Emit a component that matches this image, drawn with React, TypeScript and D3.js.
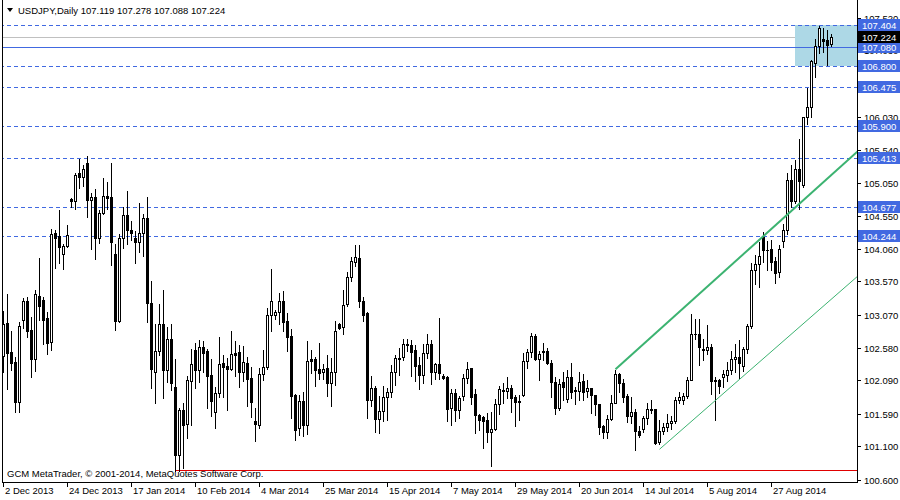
import React from "react";
import * as d3 from "d3";

// ---------- data (USDJPY daily, 2 Dec 2013 .. 19 Sep 2014) ----------
const OPEN = [
  102.448, 102.943, 102.508, 102.358, 101.763, 102.998, 103.273, 102.838, 102.408, 103.358,
  103.288, 103.018, 102.663, 104.293, 104.243, 103.983, 104.103, 104.803, 104.778, 105.188,
  105.138, 105.338, 104.793, 104.828, 104.213, 104.588, 104.843, 104.828, 103.973, 102.978,
  104.213, 104.558, 104.338, 104.218, 104.163, 104.288, 104.513, 103.253, 102.213, 102.533,
  102.928, 102.243, 102.713, 101.983, 100.968, 101.638, 101.433, 102.083, 102.538, 102.243,
  102.583, 102.523, 102.173, 101.618, 101.903, 102.353, 102.298, 102.258, 102.493, 102.508,
  102.213, 102.355, 102.120, 101.475, 101.425, 102.190, 102.285, 103.060, 103.060, 103.105,
  103.275, 102.975, 102.750, 101.875, 101.380, 101.785, 101.425, 102.405, 102.405, 102.255,
  102.220, 102.270, 102.050, 102.220, 102.925, 102.880, 103.235, 103.635, 103.865, 103.920,
  103.275, 103.102, 101.802, 101.967, 101.517, 101.627, 101.842, 101.907, 102.217, 102.407,
  102.442, 102.617, 102.617, 102.537, 102.317, 102.172, 102.492, 102.637, 102.217, 102.327,
  102.147, 102.132, 101.682, 101.892, 101.652, 101.852, 102.117, 102.267, 101.877, 101.567,
  101.542, 101.493, 101.323, 101.358, 101.728, 101.943, 101.928, 101.968, 101.843, 101.778,
  101.868, 102.378, 102.508, 102.758, 102.408, 102.508, 102.528, 102.343, 102.058, 101.678,
  102.063, 101.808, 102.133, 101.943, 101.928, 102.083, 101.923, 101.968, 101.863, 101.728,
  101.403, 101.315, 101.515, 101.755, 102.180, 102.055, 101.855, 101.555, 101.620, 101.330,
  101.360, 101.530, 101.640, 101.655, 101.170, 101.325, 101.385, 101.455, 101.475, 101.800,
  101.790, 101.855, 102.100, 102.780, 102.790, 102.565, 102.550, 102.590, 102.090, 102.090,
  102.140, 102.174, 102.244, 102.409, 102.444, 102.309, 102.559, 102.909, 103.744, 103.834,
  104.234, 104.044, 104.059, 103.874, 103.709, 104.169, 104.344, 105.084, 104.774, 105.259,
  105.009, 106.024, 106.184, 106.844, 107.099, 107.199, 107.184, 107.119,
];
const HIGH = [
  103.123, 103.378, 102.823, 102.438, 102.958, 103.323, 103.338, 103.038, 103.438, 103.923,
  103.338, 103.108, 104.353, 104.338, 104.638, 104.128, 104.413, 104.823, 105.188, 105.398,
  105.313, 105.448, 104.888, 104.953, 104.638, 105.113, 105.053, 105.338, 104.128, 104.278,
  104.688, 104.923, 104.473, 104.323, 104.743, 104.573, 104.833, 103.573, 102.928, 103.238,
  103.438, 102.888, 102.928, 102.403, 101.668, 101.753, 102.153, 102.563, 102.648, 102.688,
  102.673, 102.553, 102.403, 101.983, 102.733, 102.463, 102.418, 102.823, 102.673, 102.613,
  102.598, 102.435, 102.290, 101.675, 102.280, 102.540, 103.170, 103.755, 103.140, 103.395,
  103.425, 103.095, 102.860, 101.890, 101.865, 101.910, 102.675, 102.540, 102.440, 102.645,
  102.340, 102.465, 102.430, 102.975, 102.950, 103.440, 103.710, 103.930, 104.115, 104.115,
  103.340, 103.110, 102.152, 102.002, 101.852, 102.002, 101.977, 102.317, 102.467, 102.567,
  102.707, 102.707, 102.687, 102.617, 102.442, 102.627, 102.777, 102.692, 102.352, 103.027,
  102.182, 102.152, 101.952, 101.952, 101.852, 102.182, 102.367, 102.272, 101.962, 101.592,
  101.552, 101.593, 101.608, 101.803, 102.003, 102.043, 102.143, 102.018, 101.868, 101.868,
  102.493, 102.553, 102.803, 102.783, 102.528, 102.643, 102.568, 102.393, 102.143, 102.103,
  102.218, 102.243, 102.343, 101.993, 102.208, 102.183, 102.093, 101.978, 101.868, 101.733,
  101.418, 101.565, 101.865, 102.250, 102.205, 102.105, 101.890, 101.840, 101.655, 101.400,
  101.555, 101.755, 101.790, 101.665, 101.500, 101.455, 101.590, 101.550, 101.840, 101.915,
  101.900, 102.140, 103.080, 103.005, 103.005, 102.715, 102.915, 102.630, 102.140, 102.115,
  102.240, 102.359, 102.534, 102.634, 102.694, 102.584, 102.934, 103.844, 103.959, 104.159,
  104.309, 104.169, 104.184, 103.934, 104.109, 104.434, 105.194, 105.309, 105.384, 105.699,
  106.034, 106.469, 106.884, 107.199, 107.399, 107.369, 107.334, 107.278,
];
const LOW = [
  102.213, 101.958, 102.238, 101.613, 101.613, 102.873, 102.738, 102.138, 102.223, 102.988,
  102.638, 102.488, 102.548, 103.773, 103.853, 103.758, 104.083, 104.688, 104.648, 104.963,
  105.003, 104.538, 104.053, 103.898, 104.138, 104.578, 104.648, 103.823, 102.838, 102.958,
  104.063, 104.128, 104.188, 103.848, 104.013, 103.953, 102.963, 101.973, 101.748, 102.473,
  101.823, 102.063, 101.948, 100.738, 100.738, 100.778, 101.228, 101.418, 101.973, 102.063,
  102.213, 101.673, 101.553, 101.378, 101.838, 101.838, 101.643, 102.238, 102.153, 101.988,
  102.078, 101.700, 101.540, 101.180, 101.375, 102.095, 102.260, 102.830, 103.000, 102.925,
  102.830, 102.530, 101.525, 101.195, 101.265, 101.250, 101.285, 102.200, 102.005, 102.105,
  102.110, 101.855, 101.705, 102.025, 102.865, 102.785, 103.205, 103.580, 103.800, 103.190,
  102.980, 101.527, 101.702, 101.317, 101.307, 101.482, 101.492, 101.842, 102.017, 102.167,
  102.392, 102.532, 102.157, 102.077, 101.952, 102.042, 102.417, 102.032, 102.112, 102.102,
  102.102, 101.482, 101.427, 101.482, 101.532, 101.792, 102.042, 101.732, 101.307, 101.342,
  101.077, 101.163, 100.808, 101.343, 101.578, 101.743, 101.818, 101.618, 101.403, 101.493,
  101.853, 102.268, 102.443, 102.393, 102.093, 102.393, 102.328, 101.843, 101.588, 101.643,
  101.793, 101.768, 101.818, 101.728, 101.793, 101.793, 101.843, 101.603, 101.568, 101.293,
  101.233, 101.225, 101.490, 101.750, 101.915, 101.765, 101.465, 101.455, 101.040, 101.240,
  101.315, 101.430, 101.605, 101.130, 101.130, 101.280, 101.330, 101.365, 101.450, 101.750,
  101.730, 101.830, 102.090, 102.715, 102.325, 102.390, 102.490, 101.890, 101.490, 101.905,
  101.990, 102.074, 102.184, 102.219, 102.124, 102.224, 102.499, 102.874, 103.534, 103.484,
  103.859, 103.734, 103.734, 103.544, 103.634, 104.084, 104.284, 104.684, 104.744, 104.659,
  104.984, 105.924, 106.034, 106.634, 106.984, 106.999, 106.809, 107.088,
];
const CLOSE = [
  102.928, 102.503, 102.353, 101.763, 102.898, 103.273, 102.833, 102.408, 103.378, 103.208,
  102.998, 102.653, 104.273, 104.213, 104.088, 104.093, 104.258, 104.778, 105.163, 105.138,
  105.253, 104.793, 104.828, 104.213, 104.588, 104.843, 104.823, 104.163, 102.978, 104.218,
  104.558, 104.338, 104.298, 104.163, 104.288, 104.513, 103.248, 102.258, 102.533, 102.928,
  102.243, 102.713, 102.048, 100.968, 101.638, 101.423, 102.098, 102.338, 102.243, 102.593,
  102.503, 102.153, 101.778, 101.903, 102.338, 102.288, 102.258, 102.488, 102.468, 102.213,
  102.368, 102.110, 101.765, 101.435, 102.190, 102.285, 103.060, 103.270, 103.105, 103.270,
  102.965, 102.740, 101.855, 101.345, 101.785, 101.425, 102.385, 102.380, 102.245, 102.200,
  102.265, 102.050, 102.220, 102.825, 102.875, 103.210, 103.635, 103.875, 103.930, 103.280,
  103.070, 101.802, 101.977, 101.517, 101.627, 101.842, 101.907, 102.217, 102.417, 102.417,
  102.627, 102.637, 102.517, 102.307, 102.172, 102.492, 102.627, 102.217, 102.327, 102.192,
  102.127, 101.667, 101.892, 101.652, 101.832, 102.117, 102.252, 101.842, 101.577, 101.502,
  101.482, 101.313, 101.358, 101.728, 101.953, 101.923, 101.968, 101.828, 101.768, 101.768,
  102.378, 102.508, 102.758, 102.408, 102.483, 102.528, 102.343, 102.058, 101.678, 102.033,
  101.993, 102.133, 101.908, 101.928, 102.068, 101.918, 101.968, 101.863, 101.728, 101.393,
  101.323, 101.515, 101.755, 102.180, 102.055, 101.840, 101.555, 101.620, 101.330, 101.275,
  101.530, 101.665, 101.665, 101.155, 101.325, 101.385, 101.455, 101.475, 101.800, 101.840,
  101.855, 102.100, 102.790, 102.790, 102.590, 102.540, 102.590, 102.080, 102.075, 102.005,
  102.180, 102.244, 102.409, 102.444, 102.349, 102.559, 102.909, 103.744, 103.834, 103.944,
  104.044, 104.034, 103.859, 103.699, 104.059, 104.344, 105.094, 104.774, 105.259, 105.074,
  106.024, 106.184, 106.869, 107.099, 107.359, 107.174, 107.104, 107.224,
];

const PRICE_TICKS = [107.52, 107.03, 106.53, 106.03, 105.54, 105.05, 104.55, 104.06, 103.57, 103.07, 102.58, 102.09, 101.59, 101.1, 100.6];
const DATE_TICK_BARS = [0, 16, 32, 48, 64, 80, 96, 112, 128, 144, 160, 176, 192];
const DATE_TICK_LABELS = ["2 Dec 2013", "24 Dec 2013", "17 Jan 2014", "10 Feb 2014", "4 Mar 2014", "25 Mar 2014", "15 Apr 2014", "7 May 2014", "29 May 2014", "20 Jun 2014", "14 Jul 2014", "5 Aug 2014", "27 Aug 2014"];

const DASHED_LEVELS = [107.404, 106.8, 106.475, 105.9, 105.413, 104.677, 104.244];
const SOLID_LEVEL = 107.08;
const BID = 107.224;
const SUPPORT = { bar: 43, price: 100.75 };
const BOX = { bar: 198, top: 107.404, bottom: 106.8 };
const TREND_THICK = [{ bar: 153, price: 102.255 }, { bar: 213.5, price: 105.516 }];
const TREND_THIN = [{ bar: 164, price: 101.057 }, { bar: 213.5, price: 103.646 }];
const HEADER = "USDJPY,Daily  107.119 107.278 107.088 107.224";
const COPYRIGHT = "GCM MetaTrader, \u00A9 2001-2014, MetaQuotes Software Corp.";

// ---------- layout ----------
const W = 900, H = 500;
const PLOT_R = 857, PLOT_B = 482;
const FONT = "'Liberation Sans', Arial, sans-serif";
const BLUE = "#4169E1";
const GREEN = "#3CB371";

export default function App() {
  const x = d3.scaleLinear().domain([0, 1]).range([3, 7]); // pixel column of bar
  const y = d3.scaleLinear().domain([100.6, 107.404]).range([479.8, 25.3]);
  const Y = (v: number) => Math.round(y(v));

  const candles = OPEN.map((o, i) => {
    const h = HIGH[i], l = LOW[i], c = CLOSE[i];
    const col = Math.round(x(i));
    const top = Y(Math.max(o, c));
    const bot = Y(Math.min(o, c));
    const bull = c >= o;
    const els: React.ReactNode[] = [];
    els.push(<line key="w" x1={col + 0.5} x2={col + 0.5} y1={Y(h)} y2={Y(l) + 1} stroke="#000" strokeWidth={1} />);
    if (bot - top < 1) {
      els.push(<line key="b" x1={col - 1} x2={col + 2} y1={top + 0.5} y2={top + 0.5} stroke="#000" strokeWidth={1} />);
    } else if (bull) {
      els.push(<rect key="b" x={col - 0.5} y={top + 0.5} width={2} height={bot - top} fill="#fff" stroke="#000" strokeWidth={1} />);
    } else {
      els.push(<rect key="b" x={col - 1} y={top} width={3} height={bot - top + 1} fill="#000" />);
    }
    return <g key={i}>{els}</g>;
  });

  const lineY = (v: number) => Y(v) + 0.5;
  const line = d3.line<{ bar: number; price: number }>().x((d) => x(d.bar) + 0.5).y((d) => y(d.price));

  const labelBox = (v: number, bg: string, key: string) => (
    <g key={key}>
      <rect x={858} y={Y(v) - 6} width={42} height={12} fill={bg} />
      <text x={862} y={Y(v) + 3.5} fontSize={9.5} fill="#fff" fontFamily={FONT}>{v.toFixed(3)}</text>
    </g>
  );

  return (
    <>
      <style>{`body{margin:0;} svg{display:block;}`}</style>
      <svg width={W} height={H} style={{ background: "#fff" }} shapeRendering="crispEdges">
        <defs>
          <clipPath id="plot"><rect x={3} y={0} width={PLOT_R - 3} height={PLOT_B} /></clipPath>
        </defs>
        <g clipPath="url(#plot)">
          <line x1={0} x2={PLOT_R} y1={lineY(BID)} y2={lineY(BID)} stroke="#C0C0C0" />
          <rect x={x(BOX.bar)} y={Y(BOX.top)} width={PLOT_R - x(BOX.bar)} height={Y(BOX.bottom) - Y(BOX.top)} fill="#ADD8E6" />
          {DASHED_LEVELS.map((v) => (
            <line key={v} x1={0} x2={PLOT_R} y1={lineY(v)} y2={lineY(v)} stroke={BLUE} strokeDasharray="4,3" />
          ))}
          <line x1={0} x2={PLOT_R} y1={lineY(SOLID_LEVEL)} y2={lineY(SOLID_LEVEL)} stroke={BLUE} />
          <line x1={x(SUPPORT.bar)} x2={PLOT_R} y1={lineY(SUPPORT.price)} y2={lineY(SUPPORT.price)} stroke="#E00000" />
          {candles}
          <path d={line(TREND_THICK) || ""} stroke={GREEN} strokeWidth={2} fill="none" shapeRendering="auto" />
          <path d={line(TREND_THIN) || ""} stroke={GREEN} strokeWidth={1} fill="none" shapeRendering="auto" />
        </g>

        {/* frame */}
        <line x1={2.5} x2={2.5} y1={0} y2={PLOT_B + 0.5} stroke="#000" />
        <line x1={PLOT_R + 0.5} x2={PLOT_R + 0.5} y1={0} y2={PLOT_B + 0.5} stroke="#000" />
        <line x1={2} x2={PLOT_R + 1} y1={PLOT_B + 0.5} y2={PLOT_B + 0.5} stroke="#000" />

        {/* price axis */}
        {PRICE_TICKS.map((v) => (
          <g key={v}>
            <line x1={PLOT_R + 1} x2={PLOT_R + 4} y1={lineY(v)} y2={lineY(v)} stroke="#000" />
            <text x={864} y={Y(v) + 3.5} fontSize={9.5} fill="#000" fontFamily={FONT}>{v.toFixed(3)}</text>
          </g>
        ))}
        {DASHED_LEVELS.map((v) => labelBox(v, BLUE, "d" + v))}
        {labelBox(SOLID_LEVEL, BLUE, "solid")}
        {labelBox(BID, "#000", "bid")}

        {/* time axis */}
        {DATE_TICK_BARS.map((b, k) => (
          <g key={b}>
            <line x1={x(b) + 0.5} x2={x(b) + 0.5} y1={PLOT_B + 1} y2={PLOT_B + 5} stroke="#000" />
            <text x={x(b) + 2} y={494} fontSize={9.5} fill="#000" fontFamily={FONT}>{DATE_TICK_LABELS[k]}</text>
          </g>
        ))}

        {/* header & footer */}
        <path d="M7,8 L13,8 L10,12 Z" fill="#000" shapeRendering="auto" />
        <text x={18} y={14} fontSize={9.5} fill="#000" fontFamily={FONT}>{HEADER}</text>
        <text x={7} y={477} fontSize={9.5} fill="#000" fontFamily={FONT}>{COPYRIGHT}</text>
      </svg>
    </>
  );
}
